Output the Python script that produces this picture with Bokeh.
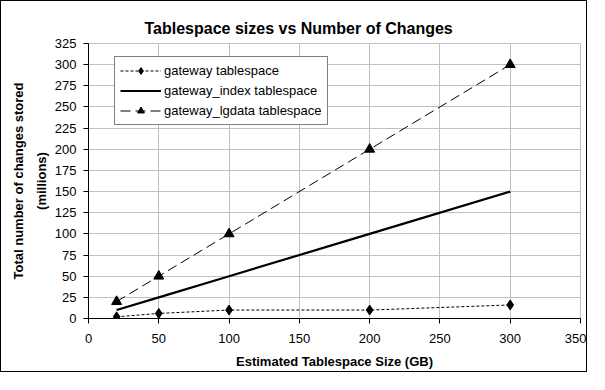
from bokeh.plotting import figure
from bokeh.models import Legend, LegendItem, FixedTicker, Range1d
from bokeh.embed import file_html
from bokeh.resources import INLINE

# Data
sizes_gb = [20, 50, 100, 200, 300]
gateway = [2, 6, 10, 10, 16]
gateway_index = [10, 25, 50, 100, 150]
gateway_lgdata = [20, 50, 100, 200, 300]
x_ticks = [0, 50, 100, 150, 200, 250, 300, 350]
y_ticks = [0, 25, 50, 75, 100, 125, 150, 175, 200, 225, 250, 275, 300, 325]

FONT = "Liberation Sans"

p = figure(width=587, height=372, output_backend="svg", toolbar_location=None,
           x_range=Range1d(0, 350), y_range=Range1d(0, 325),
           min_border_left=87, min_border_right=8, min_border_top=42, min_border_bottom=55,
           background_fill_color="white", border_fill_color="white",
           styles={"border": "1px solid black"})

p.title.text = "Tablespace sizes vs Number of Changes"
p.title.text_font = FONT
p.title.text_font_size = "16px"
p.title.text_font_style = "bold"
p.title.align = "left"
p.title.offset = 56
p.title.standoff = 14
p.title.text_color = "black"

p.outline_line_color = "#c0c0c0"
p.outline_line_width = 1

for ax in (p.xaxis[0], p.yaxis[0]):
    ax.axis_line_color = "black"
    ax.major_tick_line_color = "black"
    ax.major_tick_out = 5
    ax.major_tick_in = 0
    ax.minor_tick_line_color = None
    ax.major_label_text_font = FONT
    ax.major_label_text_font_size = "13px"
    ax.major_label_text_color = "black"
    ax.axis_label_text_font = FONT
    ax.axis_label_text_font_size = "13px"
    ax.axis_label_text_font_style = "bold"
    ax.axis_label_text_color = "black"

p.xaxis.ticker = FixedTicker(ticks=x_ticks)
p.yaxis.ticker = FixedTicker(ticks=y_ticks)
p.xaxis.axis_label = "Estimated Tablespace Size (GB)"
p.yaxis.axis_label = "Total number of changes stored\n(millions)"
p.yaxis.axis_label_text_line_height = 1.5
p.xaxis.major_label_standoff = 10
p.xaxis.axis_label_standoff = 8
p.yaxis.major_label_standoff = 7
p.yaxis.axis_label_standoff = 3

p.xgrid.ticker = FixedTicker(ticks=x_ticks)
p.ygrid.ticker = FixedTicker(ticks=y_ticks)
p.grid.grid_line_color = "#c0c0c0"
p.grid.grid_line_width = 1

r1l = p.line(sizes_gb, gateway, line_color="black", line_width=1, line_dash="3 2")
r1m = p.scatter(sizes_gb, gateway, marker="diamond", size=10, fill_color="black", line_color="black")
r2l = p.line(sizes_gb, gateway_index, line_color="black", line_width=2.2)
r3l = p.line(sizes_gb, gateway_lgdata, line_color="black", line_width=1, line_dash="10 5")
r3m = p.scatter(sizes_gb, gateway_lgdata, marker="triangle", size=10, fill_color="black", line_color="black")

legend = Legend(items=[
    LegendItem(label="gateway tablespace", renderers=[r1l, r1m]),
    LegendItem(label="gateway_index tablespace", renderers=[r2l]),
    LegendItem(label="gateway_lgdata tablespace", renderers=[r3l, r3m]),
], location=(26, 193))
legend.label_text_font = FONT
legend.label_text_font_size = "13px"
legend.label_text_color = "black"
legend.border_line_color = "black"
legend.border_line_width = 1
legend.background_fill_color = "white"
legend.background_fill_alpha = 1
legend.padding = 5
legend.spacing = 3
legend.margin = 0
legend.label_height = 17
legend.glyph_height = 17
legend.glyph_width = 41
legend.label_standoff = 3
p.add_layout(legend)

open("out.html", "w").write(file_html(p, INLINE))
